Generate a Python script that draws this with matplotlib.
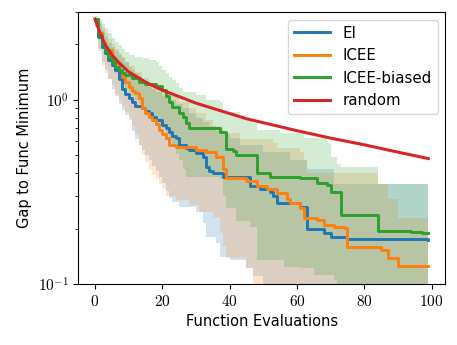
import math

import matplotlib
matplotlib.use("Agg")
import matplotlib.pyplot as plt
from matplotlib.ticker import FuncFormatter, NullFormatter

plt.rcParams["mathtext.fontset"] = "cm"

# mean curves (step change points)
ei_x = [0, 1, 2, 3, 4, 5, 6, 7, 8, 9, 10, 11, 12, 14, 15, 16, 17, 18, 20, 21, 22, 23, 24, 25, 27, 28,
        30, 32, 33, 34, 35, 38, 46, 49, 52, 53, 54, 61, 63, 68, 70, 75, 99]
ei_y = [2.75, 2.2, 1.95, 1.8, 1.65, 1.55, 1.45, 1.3, 1.15, 1.08, 1.03, 0.97, 0.93, 0.90, 0.87, 0.85, 0.81,
        0.78, 0.73, 0.70, 0.67, 0.64, 0.62, 0.57, 0.55, 0.535, 0.515, 0.49, 0.43, 0.41, 0.40, 0.38, 0.34,
        0.33, 0.316, 0.30, 0.275, 0.262, 0.20, 0.19, 0.18, 0.176, 0.173]

icee_x = [0, 1, 2, 3, 5, 6, 7, 8, 9, 10, 11, 12, 13, 14, 15, 16, 17, 18, 19, 20, 21, 22, 24, 30, 33, 36,
          38, 39, 45, 48, 51, 54, 57, 58, 61, 62, 66, 68, 71, 74, 75, 85, 87, 90, 99]
icee_y = [2.75, 2.3, 2.05, 1.87, 1.69, 1.59, 1.45, 1.33, 1.25, 1.18, 1.12, 1.09, 1.03, 0.90, 0.85, 0.81,
          0.78, 0.74, 0.69, 0.65, 0.62, 0.57, 0.556, 0.535, 0.52, 0.49, 0.42, 0.377, 0.363, 0.34, 0.328,
          0.312, 0.29, 0.275, 0.259, 0.228, 0.223, 0.209, 0.205, 0.201, 0.159, 0.153, 0.138, 0.125, 0.125]

biased_x = [0, 1, 2, 3, 4, 5, 6, 7, 8, 9, 11, 13, 15, 18, 20, 21, 22, 23, 25, 26, 27, 28, 37, 39, 41,
            42, 48, 52, 61, 66, 69, 70, 73, 84, 94, 97, 99]
biased_y = [2.75, 2.25, 2.0, 1.85, 1.7, 1.6, 1.51, 1.45, 1.40, 1.36, 1.32, 1.25, 1.22, 1.19, 1.13, 1.05,
            0.98, 0.92, 0.85, 0.81, 0.75, 0.70, 0.67, 0.54, 0.53, 0.50, 0.40, 0.38, 0.377, 0.354, 0.345,
            0.316, 0.237, 0.194, 0.192, 0.189, 0.189]

random_x = [0, 1, 2, 3, 5, 7, 10, 15, 20, 30, 45, 60, 70, 80, 90, 99]
random_y = [2.75, 2.45, 2.2, 2.0, 1.76, 1.6, 1.42, 1.25, 1.13, 0.96, 0.79, 0.68, 0.62, 0.57, 0.52, 0.48]

# shaded bands (step change points)
ei_up_x = [0, 1, 2, 3, 4, 5, 6, 7, 8, 9, 10, 11, 12, 13, 14, 15, 16, 17, 18, 20, 22, 24, 26, 28, 30,
           32, 34, 36, 38, 40, 43, 50, 58, 63, 71, 99]
ei_up_y = [2.8, 2.6, 2.4, 2.2, 2.05, 1.95, 1.85, 1.75, 1.68, 1.6, 1.5, 1.45, 1.4, 1.35, 1.3, 1.25, 1.2,
           1.15, 1.1, 1.05, 1.0, 0.95, 0.9, 0.85, 0.8, 0.76, 0.72, 0.68, 0.65, 0.62, 0.57, 0.52, 0.47,
           0.42, 0.35, 0.35]
ei_lo_x = [0, 1, 2, 3, 4, 5, 6, 7, 8, 9, 10, 11, 12, 13, 14, 15, 16, 17, 18, 19, 20, 21, 22, 23, 25,
           30, 32, 33, 36, 37, 40, 45, 47, 50, 99]
ei_lo_y = [2.5, 1.9, 1.6, 1.45, 1.3, 1.15, 1.05, 0.95, 0.88, 0.83, 0.78, 0.68, 0.61, 0.57, 0.535, 0.5,
           0.47, 0.44, 0.41, 0.38, 0.354, 0.32, 0.293, 0.28, 0.262, 0.246, 0.215, 0.18, 0.167, 0.14,
           0.135, 0.122, 0.11, 0.09, 0.09]

icee_up_x = [0, 1, 2, 3, 4, 5, 6, 7, 8, 9, 10, 12, 14, 16, 18, 20, 22, 25, 28, 30, 33, 35, 38, 43, 53,
             54, 61, 62, 63, 84, 87, 90, 99]
icee_up_y = [2.8, 2.65, 2.5, 2.3, 2.15, 2.0, 1.9, 1.8, 1.7, 1.6, 1.52, 1.42, 1.32, 1.24, 1.16, 1.1, 1.05,
             0.98, 0.9, 0.85, 0.78, 0.72, 0.66, 0.61, 0.58, 0.55, 0.52, 0.47, 0.40, 0.35, 0.29, 0.228,
             0.228]
icee_lo_x = [0, 1, 2, 3, 4, 5, 6, 7, 8, 9, 10, 11, 12, 13, 14, 15, 16, 17, 18, 19, 20, 21, 24, 28, 31,
             35, 37, 38, 39, 45, 47, 99]
icee_lo_y = [2.5, 1.85, 1.55, 1.4, 1.3, 1.2, 1.08, 1.0, 0.93, 0.86, 0.8, 0.72, 0.65, 0.57, 0.50, 0.46,
             0.42, 0.39, 0.37, 0.35, 0.33, 0.30, 0.286, 0.27, 0.246, 0.23, 0.19, 0.16, 0.138, 0.122,
             0.09, 0.09]

biased_up_x = [0, 1, 2, 3, 4, 5, 6, 7, 8, 9, 10, 12, 14, 16, 18, 19, 20, 21, 22, 23, 24, 25, 26, 30,
               33, 37, 38, 43, 45, 47, 48, 55, 62, 69, 70, 72, 73, 84, 99]
biased_up_y = [2.85, 2.75, 2.6, 2.45, 2.3, 2.18, 2.07, 1.98, 1.9, 1.82, 1.76, 1.72, 1.69, 1.65, 1.61,
               1.52, 1.45, 1.40, 1.33, 1.28, 1.24, 1.16, 1.10, 1.06, 1.0, 0.975, 0.86, 0.83, 0.79, 0.75,
               0.69, 0.66, 0.62, 0.58, 0.49, 0.45, 0.43, 0.35, 0.34]
biased_lo_x = [0, 1, 2, 3, 4, 5, 6, 7, 8, 9, 10, 11, 12, 13, 14, 15, 16, 17, 18, 19, 20, 21, 22, 23,
               24, 25, 26, 27, 37, 38, 39, 42, 46, 48, 56, 61, 65, 71, 72, 99]
biased_lo_y = [2.6, 2.3, 2.0, 1.8, 1.65, 1.5, 1.4, 1.3, 1.2, 1.15, 1.1, 1.05, 1.0, 0.95, 0.9, 0.86, 0.82,
               0.79, 0.76, 0.73, 0.7, 0.65, 0.61, 0.56, 0.51, 0.47, 0.42, 0.38, 0.37, 0.3, 0.26, 0.22,
               0.204, 0.135, 0.124, 0.122, 0.112, 0.105, 0.09, 0.09]

series = [
    ("EI", "tab:blue", ei_x, ei_y, ei_up_x, ei_up_y, ei_lo_x, ei_lo_y),
    ("ICEE", "tab:orange", icee_x, icee_y, icee_up_x, icee_up_y, icee_lo_x, icee_lo_y),
    ("ICEE-biased", "tab:green", biased_x, biased_y, biased_up_x, biased_up_y, biased_lo_x, biased_lo_y),
]


def expand(xs, ys, grid):
    # hold each value until the next change point
    out = []
    j = 0
    for g in grid:
        while j + 1 < len(xs) and xs[j + 1] <= g:
            j += 1
        out.append(ys[j])
    return out


grid = list(range(0, 100))

fig = plt.figure(figsize=(4.57, 3.45), dpi=100)
ax = fig.add_axes([0.171, 0.177, 0.803, 0.788])

for name, color, mx, my, ux, uy, lx, ly in series:
    upper = expand(ux, uy, grid)
    lower = expand(lx, ly, grid)
    ax.fill_between(grid, lower, upper, step="post", color=color, alpha=0.2, linewidth=0)

for name, color, mx, my, *_ in series:
    ax.plot(mx, my, drawstyle="steps-post", color=color, lw=2.1, label=name)

ax.plot(random_x, random_y, color="tab:red", lw=2.2, label="random")

ax.set_yscale("log")
ax.set_ylim(0.1, 3.0)
ax.set_xlim(-5, 104)
ax.set_xticks([0, 20, 40, 60, 80, 100])
ax.xaxis.set_major_formatter(FuncFormatter(lambda v, p: r"$%d$" % v))
ax.yaxis.set_major_formatter(FuncFormatter(lambda v, p: r"$10^{%d}$" % round(math.log10(v))))
ax.yaxis.set_minor_formatter(NullFormatter())
ax.tick_params(labelsize=11)

ax.set_xlabel("Function Evaluations", fontsize=10.5)
ax.set_ylabel("Gap to Func Minimum", fontsize=10.5)
ax.legend(loc="upper right", fontsize=10.8, handlelength=2.4)

fig.savefig("out.png", dpi=100)
